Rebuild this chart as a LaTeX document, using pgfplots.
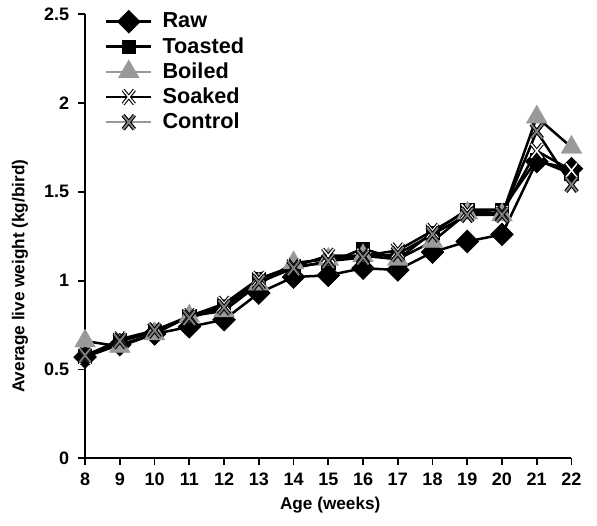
\documentclass[border=0pt]{standalone}
\usepackage{fontspec}
\setmainfont{Liberation Sans}
\usepackage{pgfplots}
\pgfplotsset{compat=1.18}
\definecolor{mgray}{gray}{0.6}
\definecolor{xgray}{gray}{0.5}
\pgfdeclareplotmark{soakx}{%
  \pgfsetbuttcap
  \pgfpathmoveto{\pgfqpoint{-.8\pgfplotmarksize}{-\pgfplotmarksize}}%
  \pgfpathlineto{\pgfqpoint{.8\pgfplotmarksize}{\pgfplotmarksize}}%
  \pgfpathmoveto{\pgfqpoint{-.8\pgfplotmarksize}{\pgfplotmarksize}}%
  \pgfpathlineto{\pgfqpoint{.8\pgfplotmarksize}{-\pgfplotmarksize}}%
  \pgfsetlinewidth{2.2pt}\pgfsetstrokecolor{black}%
  \pgfusepathqstroke
  \pgfpathmoveto{\pgfqpoint{-.8\pgfplotmarksize}{-\pgfplotmarksize}}%
  \pgfpathlineto{\pgfqpoint{.8\pgfplotmarksize}{\pgfplotmarksize}}%
  \pgfpathmoveto{\pgfqpoint{-.8\pgfplotmarksize}{\pgfplotmarksize}}%
  \pgfpathlineto{\pgfqpoint{.8\pgfplotmarksize}{-\pgfplotmarksize}}%
  \pgfsetlinewidth{0.9pt}\pgfsetstrokecolor{white}%
  \pgfusepathqstroke
}
\pgfdeclareplotmark{ctrlx}{%
  \pgfsetbuttcap
  \pgfpathmoveto{\pgfqpoint{-.8\pgfplotmarksize}{-\pgfplotmarksize}}%
  \pgfpathlineto{\pgfqpoint{.8\pgfplotmarksize}{\pgfplotmarksize}}%
  \pgfpathmoveto{\pgfqpoint{-.8\pgfplotmarksize}{\pgfplotmarksize}}%
  \pgfpathlineto{\pgfqpoint{.8\pgfplotmarksize}{-\pgfplotmarksize}}%
  \pgfsetlinewidth{2.4pt}\pgfsetstrokecolor{black}%
  \pgfusepathqstroke
  \pgfpathmoveto{\pgfqpoint{-.8\pgfplotmarksize}{-\pgfplotmarksize}}%
  \pgfpathlineto{\pgfqpoint{.8\pgfplotmarksize}{\pgfplotmarksize}}%
  \pgfpathmoveto{\pgfqpoint{-.8\pgfplotmarksize}{\pgfplotmarksize}}%
  \pgfpathlineto{\pgfqpoint{.8\pgfplotmarksize}{-\pgfplotmarksize}}%
  \pgfsetlinewidth{1.1pt}\pgfsetstrokecolor{xgray}%
  \pgfusepathqstroke
}
\pgfplotsset{graylegend/.style={legend image code/.code={\draw[mgray, line width=1.5pt] (0pt,0pt) -- (27pt,0pt); \path[mark repeat=2,mark phase=2,##1,draw=none] plot coordinates {(0pt,0pt) (13.5pt,0pt) (27pt,0pt)};}}}
\begin{document}
\begin{tikzpicture}
\begin{axis}[
  scale only axis,
  width=291.6pt, height=266.4pt,
  xmin=8, xmax=22, ymin=0, ymax=2.5,
  axis lines=left,
  axis line style={-, line width=1.1pt},
  xtick={8,...,22},
  ytick={0,0.5,1,1.5,2,2.5},
  yticklabels={0,0.5,1,1.5,2,2.5},
  tick align=outside,
  major tick length=4pt,
  tick style={black, line width=1.1pt},
  /pgf/number format/assume math mode=true,
  ticklabel style={font=\bfseries\fontsize{10.8}{12}\selectfont},
  xticklabel style={yshift=-1pt},
  yticklabel style={xshift=-2pt},
  xlabel={Age (weeks)},
  ylabel={Average live weight (kg/bird)},
  label style={font=\bfseries\fontsize{10.3}{12}\selectfont},
  xlabel style={at={(axis description cs:0.504,-0.106)}, anchor=center},
  ylabel style={at={(axis description cs:-0.134,0.41)}, anchor=center},
  clip=false,
  legend cell align=left,
  legend style={draw=none, fill=none, at={(rel axis cs:0.03,1.018)}, anchor=north west,
    font=\bfseries\fontsize{13}{14}\selectfont, row sep=0.2pt,
    /tikz/every odd column/.append style={column sep=4pt}},
  legend image code/.code={\draw[mark repeat=2,mark phase=2,#1] plot coordinates {(0pt,0pt) (13.5pt,0pt) (27pt,0pt)};},
  every axis plot/.append style={line width=1.5pt},
]
\addplot[black, mark=square*, mark size=4.8pt, mark options={rotate=45, fill=black, line width=0.4pt}] coordinates {
(8,0.57) (9,0.64) (10,0.70) (11,0.74) (12,0.78) (13,0.93) (14,1.02) (15,1.03) (16,1.07) (17,1.06) (18,1.16) (19,1.22) (20,1.26) (21,1.67) (22,1.63)};
\addlegendentry{Raw}
\addplot[black, mark=square*, mark size=4.0pt, mark options={fill=black, line width=0.4pt}] coordinates {
(8,0.57) (9,0.66) (10,0.71) (11,0.80) (12,0.86) (13,1.01) (14,1.08) (15,1.10) (16,1.18) (17,1.12) (18,1.27) (19,1.40) (20,1.40) (21,1.68) (22,1.60)};
\addlegendentry{Toasted}
\addplot[black, mark=triangle*, mark size=7.2pt, mark options={fill=mgray, draw=mgray, line width=0.2pt}, graylegend] coordinates {
(8,0.66) (9,0.63) (10,0.70) (11,0.80) (12,0.83) (13,0.98) (14,1.10) (15,1.12) (16,1.14) (17,1.12) (18,1.22) (19,1.38) (20,1.37) (21,1.92) (22,1.75)};
\addlegendentry{Boiled}
\addplot[black, mark=soakx, mark size=4.2pt] coordinates {
(8,0.57) (9,0.67) (10,0.72) (11,0.80) (12,0.87) (13,1.01) (14,1.08) (15,1.14) (16,1.14) (17,1.17) (18,1.28) (19,1.39) (20,1.38) (21,1.73) (22,1.62)};
\addlegendentry{Soaked}
\addplot[black, mark=ctrlx, mark size=4.2pt, graylegend] coordinates {
(8,0.58) (9,0.66) (10,0.72) (11,0.79) (12,0.85) (13,0.99) (14,1.07) (15,1.11) (16,1.13) (17,1.15) (18,1.26) (19,1.37) (20,1.37) (21,1.84) (22,1.54)};
\addlegendentry{Control}
\end{axis}
\pgfresetboundingbox
\path (current axis.south west) ++(-51pt,-40.2pt) coordinate (bl);
\path (current axis.north east) ++(15.3pt,8.4pt) coordinate (tr);
\path (bl) rectangle (tr);
\end{tikzpicture}
\end{document}
